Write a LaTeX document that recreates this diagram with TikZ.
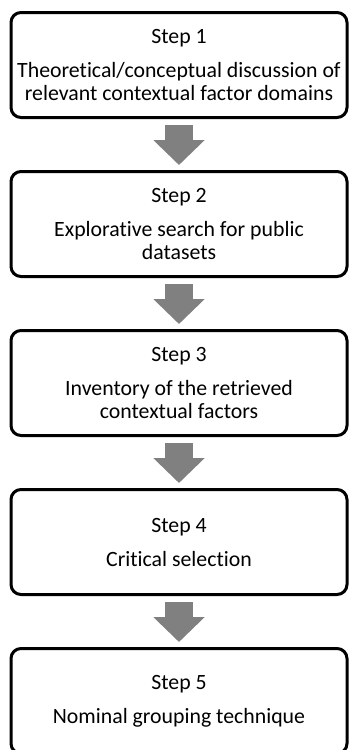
\documentclass[tikz,border=0pt]{standalone}
\usepackage{fontspec}
\setmainfont[Ligatures=NoCommon]{Carlito}
\usetikzlibrary{positioning,arrows.meta}
\definecolor{arrowgray}{RGB}{128,128,128}

\begin{document}
\begin{tikzpicture}[
    node distance=25.5pt,
    stepbox/.style={draw, line width=1.5pt, rounded corners=5pt,
      minimum width=168pt, minimum height=52.5pt, inner sep=0pt,
      align=center, font=\fontsize{10.9}{11.5}\selectfont},
    blockarrow/.style={draw=arrowgray, line width=14pt,
      -{Triangle[length=12.5pt,width=25pt]},
      shorten <=3pt, shorten >=2.5pt}
  ]
  \useasboundingbox (0,0) rectangle (175pt,-375pt);
  \node[stepbox] (s1) at (89.5pt,-32.5pt)
    {Step 1\\[5.5pt]Theoretical/conceptual discussion of\\relevant contextual factor domains};
  \node[stepbox, below=of s1] (s2)
    {Step 2\\[5.5pt]Explorative search for public\\datasets};
  \node[stepbox, below=of s2] (s3)
    {Step 3\\[5.5pt]Inventory of the retrieved\\contextual factors};
  \node[stepbox, below=of s3] (s4)
    {Step 4\\[5.5pt]Critical selection};
  \node[stepbox, below=of s4] (s5)
    {Step 5\\[5.5pt]Nominal grouping technique};
  \begin{scope}[blockarrow]
    \draw (s1) to (s2);
    \draw (s2) to (s3);
    \draw (s3) to (s4);
    \draw (s4) to (s5);
  \end{scope}
\end{tikzpicture}
\end{document}
